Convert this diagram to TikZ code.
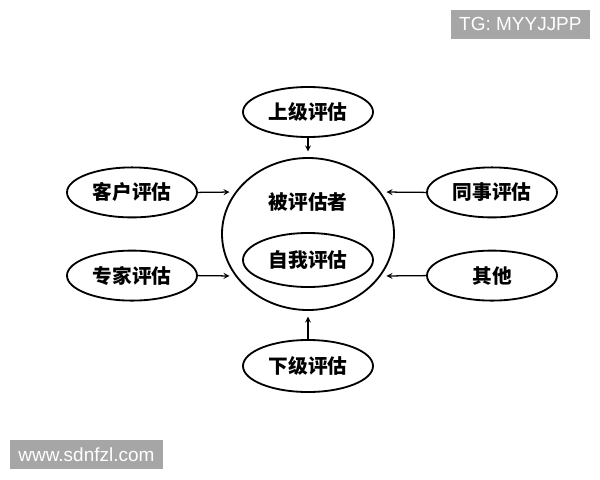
\documentclass[tikz,border=0pt]{standalone}
\usepackage{fontspec}
\setsansfont{Liberation Sans}
\newfontfamily\cjk{Noto Sans CJK SC}
\usetikzlibrary{shapes.geometric, arrows}

\begin{document}
\begin{tikzpicture}[node distance=4.4cm]

    \tikzstyle{evalbox} = [ellipse, minimum width=3.25cm, minimum height=1.25cm, inner sep=0pt, text centered, draw=black, line width=1.3pt, font=\cjk\bfseries\fontsize{14}{14}\selectfont]
    \tikzstyle{mainbox} = [ellipse, minimum width=4.3cm, minimum height=3.8cm, inner sep=0pt, draw=black, line width=1.3pt]
    \tikzstyle{arrow} = [line width=0.9pt,->,>=stealth, shorten >=4pt]
    \tikzstyle{wmark} = [rectangle, minimum height=0.725cm, inner sep=0pt, text centered, fill=gray!70, text=white, font=\sffamily\fontsize{13.5}{14}\selectfont]

    \useasboundingbox (0,0) rectangle (15,-12);

    \node[mainbox] (bei) at (7.7,-5.85) {};
    \node[above of=bei, node distance=0.8cm, font=\cjk\bfseries\fontsize{14}{14}\selectfont] (beiname) {被评估者};
    \node[evalbox, below of=bei, node distance=0.65cm, minimum height=1.35cm] (ziwo) {自我评估};

    \node[evalbox, above of=bei, node distance=3.05cm] (shangji) {上级评估};
    \node[evalbox, below of=bei, node distance=3.3cm, minimum height=1.3cm]  (xiaji)   {下级评估};
    \node[evalbox, left of=bei, yshift=1.04cm]   (kehu)    {客户评估};
    \node[evalbox, left of=bei, yshift=-1.04cm]  (zhuanjia) {专家评估};
    \node[evalbox, right of=bei, xshift=0.2cm, yshift=1.04cm]  (tongshi) {同事评估};
    \node[evalbox, right of=bei, xshift=0.2cm, yshift=-1.04cm] (qita)    {其他};

    \draw[arrow] (shangji)        -- (bei.north);
    \draw[arrow] (xiaji)          -- (bei.south);
    \draw[arrow] (kehu.east)      -- (bei.150);
    \draw[arrow] (zhuanjia.east)  -- (bei.210);
    \draw[arrow] (tongshi.west)   -- (bei.30);
    \draw[arrow] (qita.west)      -- (bei.330);

    % watermarks
    \node[wmark, minimum width=3.475cm] (tg)  at (13.01,-0.61) {TG: MYYJJPP};
    \node[wmark, minimum width=3.825cm] (web) at (2.16,-11.36) {www.sdnfzl.com};

\end{tikzpicture}
\end{document}
